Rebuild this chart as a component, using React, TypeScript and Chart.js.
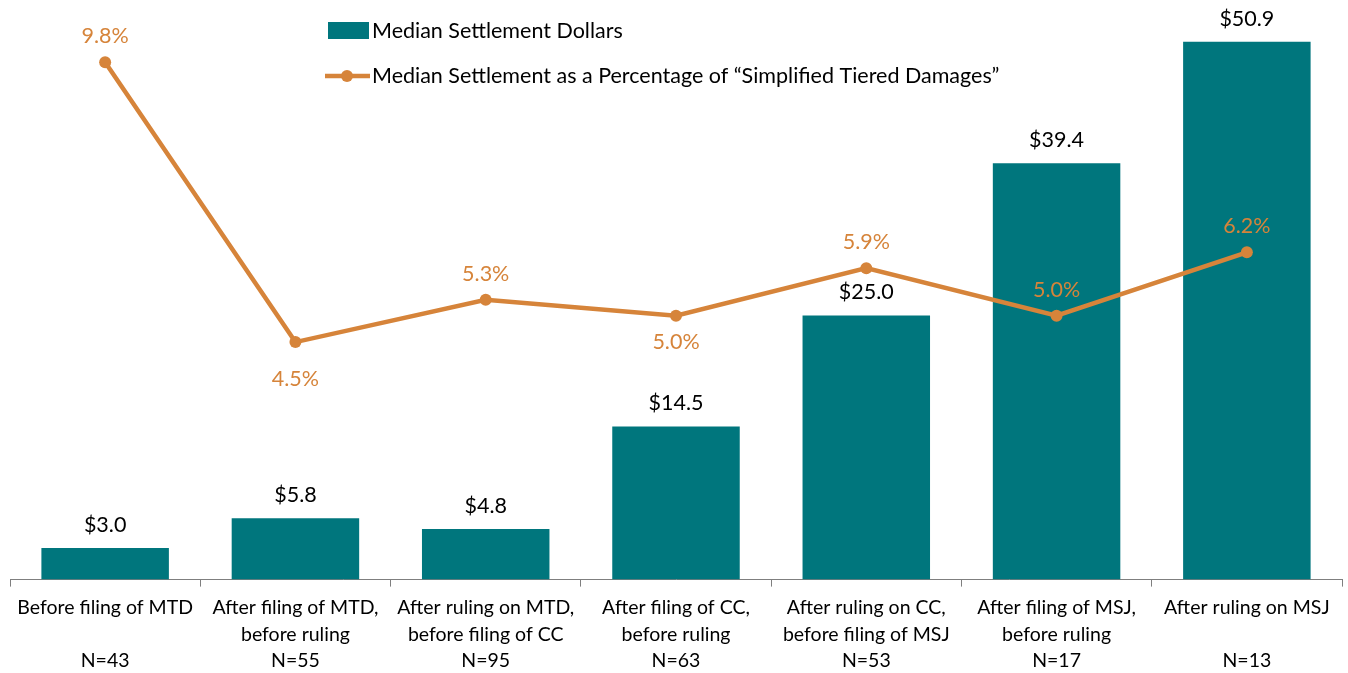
import React, { useEffect, useRef } from "react";
import { Chart, registerables } from "chart.js";

Chart.register(...registerables);

const categories: string[][] = [
  ["Before filing of MTD", "", "N=43"],
  ["After filing of MTD,", "before ruling", "N=55"],
  ["After ruling on MTD,", "before filing of CC", "N=95"],
  ["After filing of CC,", "before ruling", "N=63"],
  ["After ruling on CC,", "before filing of MSJ", "N=53"],
  ["After filing of MSJ,", "before ruling", "N=17"],
  ["After ruling on MSJ", "", "N=13"],
];
const settlementDollars = [3.0, 5.8, 4.8, 14.5, 25.0, 39.4, 50.9];
const settlementPct = [9.8, 4.5, 5.3, 5.0, 5.9, 5.0, 6.2];
const pctLabelSide = ["above", "below", "above", "below", "above", "above", "above"];
const barLegend = "Median Settlement Dollars";
const lineLegend = "Median Settlement as a Percentage of \u201cSimplified Tiered Damages\u201d";

const TEAL = "#00767D";
const ORANGE = "#D6843A";
const FONT = "Lato, 'Open Sans', sans-serif";

const labelPlugin = {
  id: "customLabels",
  afterDatasetsDraw(chart: any) {
    const ctx = chart.ctx;
    ctx.save();
    ctx.textAlign = "center";
    ctx.textBaseline = "middle";
    ctx.font = `21.5px ${FONT}`;
    const barMeta = chart.getDatasetMeta(0);
    barMeta.data.forEach((el: any, i: number) => {
      ctx.fillStyle = "#000";
      ctx.fillText("$" + settlementDollars[i].toFixed(1), el.x, el.y - 23);
    });
    const lineMeta = chart.getDatasetMeta(1);
    lineMeta.data.forEach((el: any, i: number) => {
      ctx.fillStyle = ORANGE;
      const dy = pctLabelSide[i] === "above" ? -26 : i === 1 ? 37 : 26;
      ctx.fillText(settlementPct[i].toFixed(1) + "%", el.x, el.y + dy);
    });
    // legend
    ctx.font = `21.5px ${FONT}`;
    ctx.textAlign = "left";
    ctx.fillStyle = TEAL;
    ctx.fillRect(328, 22, 41, 17);
    ctx.fillStyle = "#000";
    ctx.fillText(barLegend, 372, 31);
    ctx.strokeStyle = ORANGE;
    ctx.lineWidth = 4.5;
    ctx.beginPath();
    ctx.moveTo(325, 76);
    ctx.lineTo(370, 76);
    ctx.stroke();
    ctx.fillStyle = ORANGE;
    ctx.beginPath();
    ctx.arc(347, 76, 6, 0, Math.PI * 2);
    ctx.fill();
    ctx.fillStyle = "#000";
    ctx.fillText(lineLegend, 372, 76);
    ctx.restore();
  },
};

export default function App() {
  const ref = useRef<HTMLCanvasElement>(null);
  useEffect(() => {
    document.body.style.margin = "0";
    document.body.style.overflow = "hidden";
    const chart = new Chart(ref.current!, {
      type: "bar",
      data: {
        labels: categories,
        datasets: [
          {
            type: "bar",
            label: barLegend,
            data: settlementDollars,
            backgroundColor: TEAL,
            yAxisID: "y",
            barPercentage: 0.67,
            categoryPercentage: 1,
            order: 2,
          },
          {
            type: "line",
            label: lineLegend,
            data: settlementPct,
            borderColor: ORANGE,
            backgroundColor: ORANGE,
            borderWidth: 4.5,
            pointRadius: 6,
            pointBackgroundColor: ORANGE,
            pointBorderWidth: 0,
            yAxisID: "y2",
            order: 1,
          } as any,
        ],
      },
      options: {
        animation: false,
        responsive: false,
        maintainAspectRatio: false,
        layout: { padding: { left: 10, right: 4, top: 9, bottom: 0 } },
        plugins: { legend: { display: false }, tooltip: { enabled: false } },
        scales: {
          x: {
            offset: true,
            grid: {
              display: true,
              offset: true,
              drawOnChartArea: false,
              drawTicks: true,
              tickLength: 7,
              color: "#7f7f7f",
            },
            border: { display: true, color: "#7f7f7f", width: 1 },
            ticks: {
              color: "#000",
              font: { family: FONT, size: 19.5, lineHeight: 1.357 },
              maxRotation: 0,
              autoSkip: false,
              padding: 8,
            },
          },
          y: { display: false, min: 0, max: 54 },
          y2: { display: false, min: 0, max: 54 * 10.53 / 52.6, position: "right" },
        },
      },
      plugins: [labelPlugin],
    });
    return () => chart.destroy();
  }, []);
  return (
    <div style={{ width: 1348, height: 673, overflow: "hidden" }}>
      <canvas ref={ref} width={1348} height={682} style={{ display: "block" }} />
    </div>
  );
}
